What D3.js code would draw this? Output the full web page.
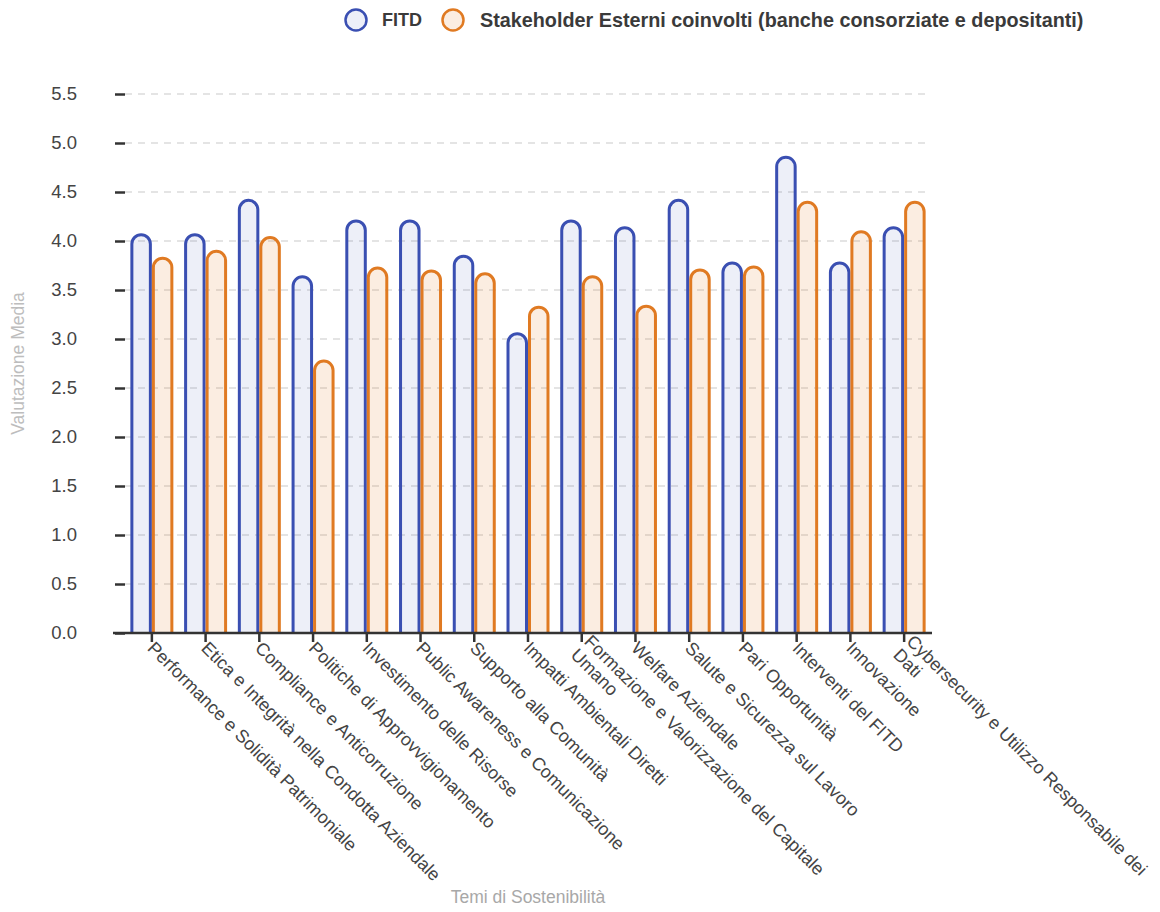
<!DOCTYPE html>
<html>
<head>
<meta charset="utf-8">
<script src="https://cdn.jsdelivr.net/npm/d3@7/dist/d3.min.js"></script>
<style>
  html, body { margin: 0; padding: 0; background: #fff; }
  svg { display: block; font-family: "Liberation Sans", Arial, Helvetica, sans-serif; }
</style>
</head>
<body>
<svg id="chart" width="1160" height="912"></svg>
<script>
// Sustainability themes (multi-line labels are split into rows)
const categories = [
  ["Performance e Solidità Patrimoniale"],
  ["Etica e Integrità nella Condotta Aziendale"],
  ["Compliance e Anticorruzione"],
  ["Politiche di Approvvigionamento"],
  ["Investimento delle Risorse"],
  ["Public Awareness e Comunicazione"],
  ["Supporto alla Comunità"],
  ["Impatti Ambientali Diretti"],
  ["Formazione e Valorizzazione del Capitale", "Umano"],
  ["Welfare Aziendale"],
  ["Salute e Sicurezza sul Lavoro"],
  ["Pari Opportunità"],
  ["Interventi del FITD"],
  ["Innovazione"],
  ["Cybersecurity e Utilizzo Responsabile dei", "Dati"]
];

const seriesNames = ["FITD", "Stakeholder Esterni coinvolti (banche consorziate e depositanti)"];

const fitdValues = [4.08, 4.08, 4.43, 3.65, 4.22, 4.22, 3.86, 3.07, 4.22, 4.15, 4.43, 3.79, 4.87, 3.79, 4.15];
const stakeholderValues = [3.84, 3.91, 4.05, 2.79, 3.74, 3.71, 3.68, 3.34, 3.65, 3.35, 3.72, 3.75, 4.41, 4.11, 4.41];

const yTicks = [0, 0.5, 1, 1.5, 2, 2.5, 3, 3.5, 4, 4.5, 5, 5.5];

const strokeColors = ["#3a4fb2", "#e07a22"];
const fillColors = ["rgba(58,79,178,0.09)", "rgba(230,128,40,0.14)"];

const svg = d3.select("#chart");
const plot = { left: 125, right: 931, top: 94, bottom: 633 };

const x = d3.scaleBand()
  .domain(d3.range(categories.length))
  .range([plot.left, plot.right])
  .paddingInner(0.2)
  .paddingOuter(0.1);

const xSub = d3.scaleBand()
  .domain([0, 1])
  .range([0, x.bandwidth()]);

const y = d3.scaleLinear().domain([0, 5.5]).range([plot.bottom, plot.top]);

// dashed horizontal grid
svg.append("g")
  .selectAll("line")
  .data(yTicks.filter(d => d > 0))
  .join("line")
  .attr("x1", plot.left).attr("x2", plot.right)
  .attr("y1", d => y(d)).attr("y2", d => y(d))
  .attr("stroke", "#dcdcdc")
  .attr("stroke-width", 1.5)
  .attr("stroke-dasharray", "7,6");

// y axis: ticks and labels only
const yAxis = svg.append("g")
  .attr("transform", `translate(${plot.left},0)`)
  .call(d3.axisLeft(y).tickValues(yTicks).tickFormat(d3.format(".1f")).tickSize(10).tickPadding(38));
yAxis.select(".domain").remove();
yAxis.selectAll(".tick line").attr("stroke", "#333").attr("stroke-width", 2.5);
yAxis.selectAll(".tick text")
  .attr("font-size", 18.5)
  .attr("fill", "#444")
  .attr("font-family", "Liberation Sans, Arial, sans-serif");

// bars with fully rounded tops, border drawn inside the bar
const bw = 3;
function barPath(x0, w, yTop, yBot) {
  const l = x0 + bw / 2, r = x0 + w - bw / 2, t = yTop + bw / 2, b = yBot;
  const rad = (r - l) / 2;
  return `M${l},${b}L${l},${t + rad}A${rad},${rad} 0 0 1 ${r},${t + rad}L${r},${b}`;
}

const seriesValues = [fitdValues, stakeholderValues];
seriesValues.forEach((vals, s) => {
  svg.append("g")
    .selectAll("path")
    .data(vals)
    .join("path")
    .attr("d", (v, i) => barPath(x(i) + xSub(s), xSub.bandwidth(), y(v), y(0)))
    .attr("fill", fillColors[s])
    .attr("stroke", strokeColors[s])
    .attr("stroke-width", bw);
});

// x axis
const xAxis = svg.append("g")
  .attr("transform", `translate(0,${plot.bottom})`)
  .call(d3.axisBottom(x).tickSize(9).tickFormat(""));
xAxis.select(".domain")
  .attr("d", `M${plot.left - 12},0H${plot.right + 1}`)
  .attr("stroke", "#333").attr("stroke-width", 2.5);
xAxis.selectAll(".tick line").attr("stroke", "#333").attr("stroke-width", 2.5);

// rotated category labels
const lineGap = 19;
const labels = svg.append("g")
  .selectAll("g")
  .data(categories)
  .join("g")
  .attr("transform", (d, i) => `translate(${x(i) + x.bandwidth() / 2 - 1},${plot.bottom + 12}) rotate(45)`);
labels.each(function (rows) {
  const g = d3.select(this);
  const off = (rows.length - 1) / 2;
  rows.forEach((row, k) => {
    g.append("text")
      .attr("x", 0)
      .attr("y", (k - off) * lineGap)
      .attr("dominant-baseline", "central")
      .attr("font-size", 18)
      .attr("fill", "#444")
      .text(row);
  });
});

// axis titles
svg.append("text")
  .attr("x", 528).attr("y", 897)
  .attr("text-anchor", "middle")
  .attr("dominant-baseline", "central")
  .attr("font-size", 17.5)
  .attr("fill", "#a8a8a8")
  .text("Temi di Sostenibilità");

svg.append("text")
  .attr("transform", `translate(18,${(plot.top + plot.bottom) / 2}) rotate(-90)`)
  .attr("text-anchor", "middle")
  .attr("dominant-baseline", "central")
  .attr("font-size", 17.5)
  .attr("fill", "#bdbdbd")
  .text("Valutazione Media");

// legend
const legendItems = [
  { cx: 356, tx: 382, size: 18 },
  { cx: 453, tx: 480, size: 19.8 }
];
const legend = svg.append("g");
legendItems.forEach((it, s) => {
  legend.append("circle")
    .attr("cx", it.cx).attr("cy", 20).attr("r", 10.5)
    .attr("fill", fillColors[s])
    .attr("stroke", strokeColors[s])
    .attr("stroke-width", 2.5);
  legend.append("text")
    .attr("x", it.tx).attr("y", 20)
    .attr("dominant-baseline", "central")
    .attr("font-size", it.size)
    .attr("font-weight", "bold")
    .attr("fill", "#3a3a3a")
    .text(seriesNames[s]);
});
</script>
</body>
</html>
